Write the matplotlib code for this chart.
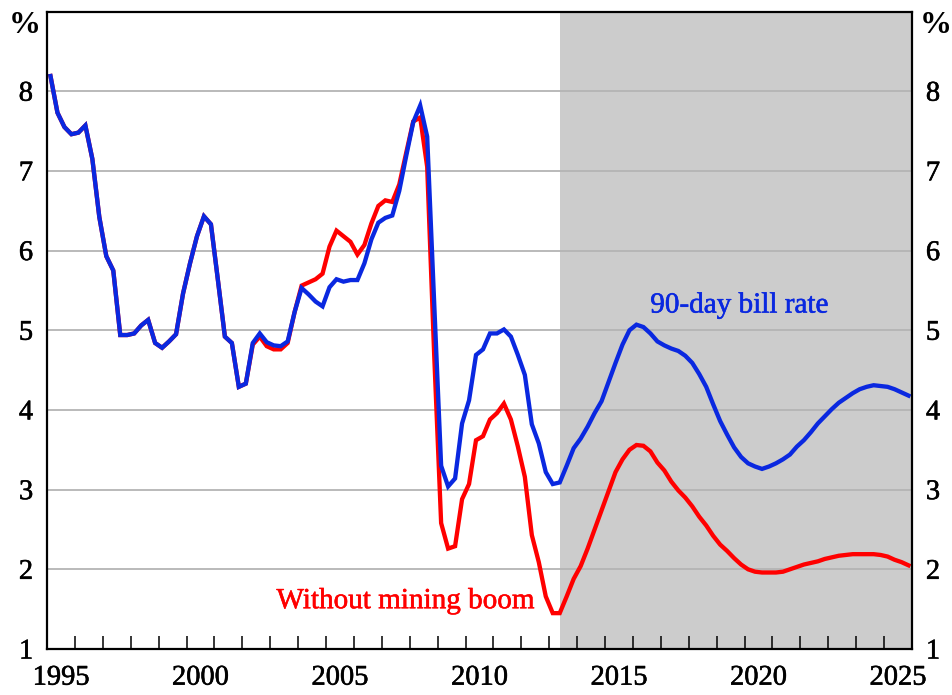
import numpy as np
import matplotlib
matplotlib.use("Agg")
import matplotlib.pyplot as plt
import matplotlib.patheffects as pe

plt.rcParams['font.family'] = ['Liberation Serif', 'DejaVu Serif']

# ---------------- data (quarterly, mid-quarter positions) ----------------
first_quarter = 1995.125
bill_rate = [
    8.19, 7.73, 7.55, 7.46,   # 1995
    7.48, 7.57, 7.15, 6.42,   # 1996
    5.93, 5.75, 4.94, 4.94,   # 1997
    4.96, 5.06, 5.13, 4.84,   # 1998
    4.78, 4.86, 4.95, 5.46,   # 1999
    5.84, 6.18, 6.43, 6.33,   # 2000
    5.63, 4.92, 4.84, 4.29,   # 2001
    4.33, 4.84, 4.96, 4.85,   # 2002
    4.81, 4.80, 4.86, 5.23,   # 2003
    5.53, 5.45, 5.36, 5.30,   # 2004
    5.54, 5.64, 5.61, 5.63,   # 2005
    5.63, 5.84, 6.14, 6.35,   # 2006
    6.41, 6.44, 6.75, 7.19,   # 2007
    7.61, 7.82, 7.43, 5.35,   # 2008
    3.30, 3.04, 3.14, 3.83,   # 2009
    4.12, 4.69, 4.76, 4.96,   # 2010
    4.96, 5.01, 4.92, 4.69,   # 2011
    4.44, 3.82, 3.58, 3.22,   # 2012
    3.07, 3.09, 3.30, 3.52,   # 2013
    3.64, 3.79, 3.96, 4.11,   # 2014
    4.35, 4.59, 4.82, 5.00,   # 2015
    5.07, 5.04, 4.96, 4.86,   # 2016
    4.81, 4.77, 4.74, 4.68,   # 2017
    4.59, 4.45, 4.29, 4.07,   # 2018
    3.86, 3.69, 3.53, 3.41,   # 2019
    3.33, 3.29, 3.26, 3.29,   # 2020
    3.33, 3.38, 3.44, 3.54,   # 2021
    3.62, 3.72, 3.83, 3.92,   # 2022
    4.01, 4.09, 4.15, 4.21,   # 2023
    4.26, 4.29, 4.31, 4.30,   # 2024
    4.29, 4.26, 4.22, 4.18,   # 2025
]
without_mining_boom = [
    8.19, 7.73, 7.55, 7.46,   # 1995
    7.48, 7.57, 7.15, 6.42,   # 1996
    5.93, 5.75, 4.94, 4.94,   # 1997
    4.96, 5.06, 5.13, 4.84,   # 1998
    4.78, 4.86, 4.95, 5.46,   # 1999
    5.84, 6.18, 6.43, 6.33,   # 2000
    5.63, 4.92, 4.84, 4.29,   # 2001
    4.33, 4.82, 4.92, 4.80,   # 2002
    4.76, 4.76, 4.84, 5.23,   # 2003
    5.56, 5.60, 5.64, 5.71,   # 2004
    6.05, 6.25, 6.18, 6.11,   # 2005
    5.95, 6.07, 6.34, 6.56,   # 2006
    6.63, 6.61, 6.83, 7.23,   # 2007
    7.62, 7.67, 7.05, 4.70,   # 2008
    2.58, 2.26, 2.29, 2.88,   # 2009
    3.07, 3.62, 3.67, 3.88,   # 2010
    3.96, 4.08, 3.88, 3.54,   # 2011
    3.16, 2.43, 2.09, 1.66,   # 2012
    1.45, 1.45, 1.66, 1.88,   # 2013
    2.04, 2.26, 2.50, 2.74,   # 2014
    2.98, 3.22, 3.38, 3.50,   # 2015
    3.56, 3.55, 3.48, 3.34,   # 2016
    3.24, 3.10, 2.99, 2.90,   # 2017
    2.79, 2.66, 2.55, 2.42,   # 2018
    2.31, 2.23, 2.14, 2.06,   # 2019
    2.00, 1.97, 1.96, 1.96,   # 2020
    1.96, 1.97, 2.00, 2.03,   # 2021
    2.06, 2.08, 2.10, 2.13,   # 2022
    2.15, 2.17, 2.18, 2.19,   # 2023
    2.19, 2.19, 2.19, 2.18,   # 2024
    2.16, 2.12, 2.09, 2.05,   # 2025
]
forecast_start = 2013.375
year_labels = ['1995', '2000', '2005', '2010', '2015', '2020', '2025']
y_ticks = [1, 2, 3, 4, 5, 6, 7, 8]
bill_label = '90-day bill rate'
mining_label = 'Without mining boom'

# ---------------- styling ----------------
BLUE = '#0a28e0'
RED = '#ff0000'
GRID = '#b4b4b4'
SHADE = '#cccccc'

quarters = first_quarter + 0.25 * np.arange(len(bill_rate))

fig = plt.figure(figsize=(9.52, 6.95), dpi=100)
ax = fig.add_axes([47 / 952, 1 - 649 / 695, 865 / 952, 637.5 / 695])

x0, x1 = 1995.0, 2026.0
ax.set_xlim(x0, x1)
ax.set_ylim(1, 9)

ax.axvspan(forecast_start, x1, color=SHADE, lw=0, zorder=0)
for yv in y_ticks[1:]:
    ax.axhline(yv, color=GRID, lw=1.3, zorder=1)

ax.plot(quarters, without_mining_boom, color=RED, lw=3.1, zorder=3,
        solid_joinstyle='miter')
ax.plot(quarters, bill_rate, color=BLUE, lw=3.1, zorder=4,
        solid_joinstyle='miter')

# x axis: year-boundary ticks (inward), labels centred in each year
ax.set_xticks(np.arange(1996, 2026))
ax.set_xticklabels([])
ax.tick_params(axis='x', which='major', direction='in', length=9.5,
               width=1.1, color='black', top=False, bottom=True)
ax.set_xticks([int(l) + 0.5 for l in year_labels], year_labels, minor=True)
ax.tick_params(axis='x', which='minor', length=0, pad=12, labelsize=20.5)

# y axis: labels on both sides, no tick marks
ax.set_yticks(y_ticks)
ax.tick_params(axis='y', length=0, labelsize=20.5, left=True, right=True,
               labelleft=True, labelright=True, pad=10)

thick = [pe.withStroke(linewidth=0.4, foreground='black')]
for lab in ax.get_xticklabels(minor=True):
    lab.set_path_effects(thick)
for t in ax.yaxis.get_major_ticks():
    t.label1.set_path_effects(thick)
    t.label2.set_path_effects(thick)

for sp in ax.spines.values():
    sp.set_linewidth(1.6)
    sp.set_color('black')
    sp.set_zorder(5)

ax.text(-0.0254, 0.9775, '%', transform=ax.transAxes, ha='center',
        va='center', fontsize=23, fontweight='bold')
ax.text(1.0275, 0.9775, '%', transform=ax.transAxes, ha='center',
        va='center', fontsize=23, fontweight='bold')

ax.text(2019.81, 5.31, bill_label, color=BLUE, fontsize=21,
        ha='center', va='center', zorder=6,
        path_effects=[pe.withStroke(linewidth=0.4, foreground=BLUE)])
ax.text(2007.84, 1.60, mining_label, color=RED, fontsize=21,
        ha='center', va='center', zorder=6,
        path_effects=[pe.withStroke(linewidth=0.4, foreground=RED)])

fig.savefig('out.png', dpi=100)
